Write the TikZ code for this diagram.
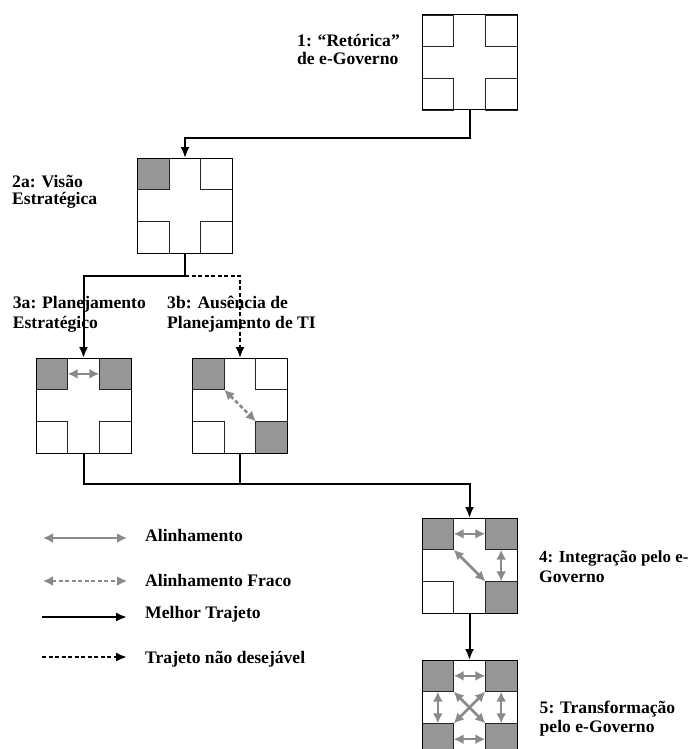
\documentclass[tikz,border=0pt]{standalone}
\usepackage{fontspec}
\setmainfont{Liberation Serif}
\usetikzlibrary{arrows.meta,calc}
\definecolor{gfill}{RGB}{150,150,150}
\definecolor{garrow}{RGB}{138,138,138}
\newcommand\cellsz{31.67}
\newcommand\mycrossbox[6]{%
  \node[boxframe] (#1) at #2 {};
  \draw[innerline, fill=#3] (#1.north west) rectangle ++(\cellsz,\cellsz);
  \draw[innerline, fill=#4] (#1.north east) rectangle ++(-\cellsz,\cellsz);
  \draw[innerline, fill=#5] (#1.south west) rectangle ++(\cellsz,-\cellsz);
  \draw[innerline, fill=#6] (#1.south east) rectangle ++(-\cellsz,-\cellsz);
  \draw[outerline] (#1.north west) rectangle (#1.south east);
}
\tikzset{
  boxframe/.style={rectangle, minimum size=95pt, inner sep=0pt, outer sep=0pt},
  innerline/.style={draw=black!85, line width=0.8pt},
  outerline/.style={draw=black, line width=1pt},
  lab/.style={anchor=base west, inner sep=0pt},
  alarrow/.style={draw=garrow, line width=2.6pt, {Latex[length=10pt,width=10pt]}-{Latex[length=10pt,width=10pt]}},
  weakarrow/.style={alarrow, dash pattern=on 4pt off 2.5pt},
  best/.style={draw=black, line width=2pt, -{Latex[length=11pt,width=9pt]}},
  worse/.style={best, dash pattern=on 4pt off 2.5pt}
}
\begin{document}
\begin{tikzpicture}[x=1pt, y=-1pt, font=\bfseries\fontsize{17.6}{21}\selectfont]
\useasboundingbox (0,0) rectangle (694,749);
\clip (0,0) rectangle (694,749);

% boxes
\mycrossbox{b1}{(469.5,62.5)}{white}{white}{white}{white}
\mycrossbox{b2a}{(185,205.5)}{gfill}{white}{white}{white}
\mycrossbox{b3a}{(83.5,405.5)}{gfill}{gfill}{white}{white}
\mycrossbox{b3b}{(240,405.5)}{gfill}{white}{white}{gfill}
\mycrossbox{b4}{(469.5,565.5)}{gfill}{gfill}{white}{gfill}
\mycrossbox{b5}{(469.5,707.5)}{gfill}{gfill}{gfill}{gfill}

% labels
\node[lab] (l1a) at (297,47) {1: “Retórica”};
\node[lab] (l1b) at (297,65) {de e-Governo};
\node[lab] (l2a) at (12,187) {2a: Visão};
\node[lab] (l2b) at (12,204) {Estratégica};
\node[lab] (l3a) at (12.7,308) {3a: Planejamento};
\node[lab] (l3b) at (12.7,328.5) {Estratégico};
\node[lab] (l3c) at (167,308) {3b: Ausência de};
\node[lab] (l3d) at (167,328.5) {Planejamento de TI};
\node[lab, font=\bfseries\fontsize{16.9}{21}\selectfont] (l4a) at (539,562) {4: Integração pelo e-};
\node[lab] (l4b) at (539,582) {Governo};
\node[lab] (l5a) at (539.5,713) {5: Transformação};
\node[lab] (l5b) at (539.5,732) {pelo e-Governo};

% connectors
\coordinate (j1) at (469.5,138);
\coordinate (j2) at (185,276);
\coordinate (j3) at (240,484);
\draw[best] (b1.south) -- (j1) -| (b2a.north);
\draw[best] (b2a.south) |- (j2) -| (b3a.north);
\draw[worse] (j2) -| (b3b.north);
\draw[line width=2pt] (b3b.south) -- (j3);
\draw[best] (b3a.south) |- (j3) -| (b4.north);
\draw[best] (b4.south) -- (b5.north);

% alignment arrows inside boxes
\draw[alarrow] ($(b3a.north west)+(\cellsz,15.83)$) -- ($(b3a.north east)+(-\cellsz,15.83)$);
\draw[weakarrow] ($(b3b.north west)+(\cellsz,\cellsz)$) -- ($(b3b.south east)+(-\cellsz,-\cellsz)$);

\draw[alarrow] ($(b4.north west)+(\cellsz,15.83)$) -- ($(b4.north east)+(-\cellsz,15.83)$);
\draw[alarrow] ($(b4.north east)+(-15.83,\cellsz)$) -- ($(b4.south east)+(-15.83,-\cellsz)$);
\draw[alarrow] ($(b4.north west)+(\cellsz,\cellsz)$) -- ($(b4.south east)+(-\cellsz,-\cellsz)$);

\draw[alarrow] ($(b5.north west)+(\cellsz,15.83)$) -- ($(b5.north east)+(-\cellsz,15.83)$);
\draw[alarrow] ($(b5.south west)+(\cellsz,-15.83)$) -- ($(b5.south east)+(-\cellsz,-15.83)$);
\draw[alarrow] ($(b5.north west)+(15.83,\cellsz)$) -- ($(b5.south west)+(15.83,-\cellsz)$);
\draw[alarrow] ($(b5.north east)+(-15.83,\cellsz)$) -- ($(b5.south east)+(-15.83,-\cellsz)$);
\draw[alarrow] ($(b5.north west)+(\cellsz,\cellsz)$) -- ($(b5.south east)+(-\cellsz,-\cellsz)$);
\draw[alarrow] ($(b5.north east)+(-\cellsz,\cellsz)$) -- ($(b5.south west)+(\cellsz,-\cellsz)$);

% legend
\coordinate (g1a) at (43,538);  \coordinate (g1b) at (127,538);
\coordinate (g2a) at (43,581);  \coordinate (g2b) at (127,581);
\coordinate (g3a) at (42,617);  \coordinate (g3b) at (127,617);
\coordinate (g4a) at (42,657);  \coordinate (g4b) at (127,657);
\draw[alarrow] (g1a) -- (g1b);
\draw[weakarrow] (g2a) -- (g2b);
\draw[best] (g3a) -- (g3b);
\draw[worse] (g4a) -- (g4b);
\node[lab] (t1) at (145,541) {Alinhamento};
\node[lab] (t2) at (145,586.5) {Alinhamento Fraco};
\node[lab] (t3) at (145,618) {Melhor Trajeto};
\node[lab] (t4) at (145,663) {Trajeto não desejável};
\end{tikzpicture}
\end{document}
